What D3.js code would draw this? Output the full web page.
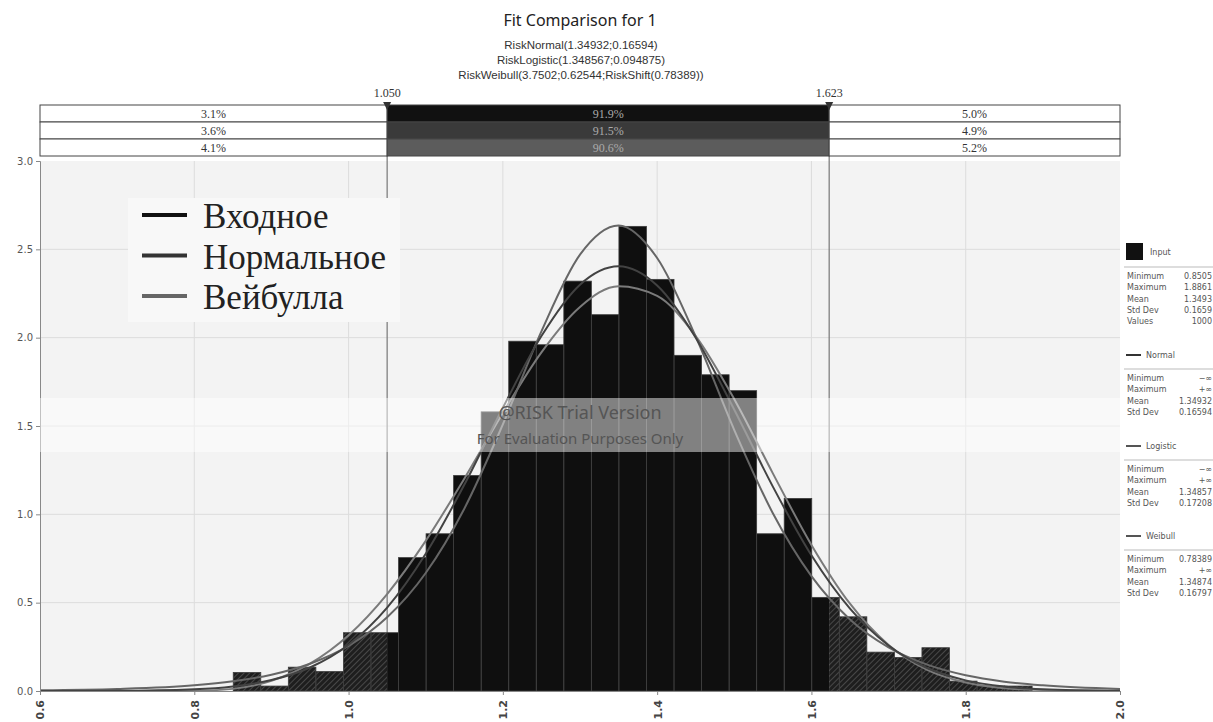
<!DOCTYPE html>
<html>
<head>
<meta charset="utf-8">
<script src="https://cdn.jsdelivr.net/npm/d3@7"></script>
<style>
  body { margin: 0; background: #fff; }
  svg { display: block; }
</style>
</head>
<body>
<svg id="chart"></svg>
<script>
// histogram of the input (density), 29 bins from min to max
const inputMin = 0.8505;
const inputMax = 1.8861;
const binHeights = [0.105, 0.028, 0.135, 0.11, 0.33, 0.33, 0.755, 0.89, 1.22, 1.58,
  1.98, 1.96, 2.32, 2.13, 2.63, 2.33, 1.90, 1.79, 1.70, 0.89,
  1.09, 0.53, 0.42, 0.22, 0.19, 0.245, 0.056, 0.028, 0.028];

// fitted curves
const curveX = [0.6, 0.7, 0.8, 0.85, 0.9, 0.95, 1.0, 1.05, 1.1, 1.15, 1.2, 1.25, 1.3, 1.35,
  1.4, 1.45, 1.5, 1.55, 1.6, 1.65, 1.7, 1.75, 1.8, 1.85, 1.9, 2.0];
const normalY = [0.0001, 0.001, 0.010, 0.026, 0.062, 0.133, 0.262, 0.472, 0.777, 1.167, 1.603, 2.009, 2.300, 2.404,
  2.295, 2.000, 1.592, 1.157, 0.768, 0.466, 0.258, 0.130, 0.060, 0.025, 0.010, 0.001];
const logisticY = [0.004, 0.011, 0.032, 0.055, 0.092, 0.154, 0.255, 0.417, 0.668, 1.032, 1.509, 2.036, 2.470, 2.635,
  2.451, 2.006, 1.477, 1.006, 0.650, 0.405, 0.247, 0.149, 0.089, 0.053, 0.032, 0.011];
const weibullY = [0, 0, 0.0003, 0.012, 0.058, 0.155, 0.316, 0.549, 0.850, 1.202, 1.574, 1.917, 2.174, 2.291,
  2.236, 2.009, 1.652, 1.232, 0.827, 0.494, 0.261, 0.120, 0.048, 0.016, 0.005, 0.0002];

// delimiters and percentages in the top bar
const delimiters = [1.050, 1.623];
const delimiterLabels = ["1.050", "1.623"];
const pctRows = [
  ["3.1%", "91.9%", "5.0%"],
  ["3.6%", "91.5%", "4.9%"],
  ["4.1%", "90.6%", "5.2%"]
];

const xTicks = [0.6, 0.8, 1.0, 1.2, 1.4, 1.6, 1.8, 2.0];
const yTicks = [0, 0.5, 1.0, 1.5, 2.0, 2.5, 3.0];

const legendLabels = ["Входное", "Нормальное", "Вейбулла"];

const titleText = "Fit Comparison for 1";
const subtitleLines = [
  "RiskNormal(1.34932;0.16594)",
  "RiskLogistic(1.348567;0.094875)",
  "RiskWeibull(3.7502;0.62544;RiskShift(0.78389))"
];

// side panel
const panelGroups = [
  { name: "Input", rows: [["Minimum", "0.8505"], ["Maximum", "1.8861"], ["Mean", "1.3493"], ["Std Dev", "0.1659"], ["Values", "1000"]] },
  { name: "Normal", rows: [["Minimum", "−∞"], ["Maximum", "+∞"], ["Mean", "1.34932"], ["Std Dev", "0.16594"]] },
  { name: "Logistic", rows: [["Minimum", "−∞"], ["Maximum", "+∞"], ["Mean", "1.34857"], ["Std Dev", "0.17208"]] },
  { name: "Weibull", rows: [["Minimum", "0.78389"], ["Maximum", "+∞"], ["Mean", "1.34874"], ["Std Dev", "0.16797"]] }
];

const W = 1213, H = 722;
const plotL = 40, plotR = 1120, plotT = 161, plotB = 691;

const svg = d3.select("#chart").attr("width", W).attr("height", H);

const x = d3.scaleLinear().domain([0.6, 2.0]).range([plotL, plotR]);
const y = d3.scaleLinear().domain([0, 3]).range([plotB, plotT]);

// hatch pattern for tails
const defs = svg.append("defs");
const pat = defs.append("pattern")
  .attr("id", "hatch")
  .attr("patternUnits", "userSpaceOnUse")
  .attr("width", 4).attr("height", 4)
  .attr("patternTransform", "rotate(45)");
pat.append("rect").attr("width", 4).attr("height", 4).attr("fill", "#1e1e1e");
pat.append("line").attr("x1", 0).attr("y1", 0).attr("x2", 0).attr("y2", 4)
  .attr("stroke", "#5a5a5a").attr("stroke-width", 1.4);

// plot background
svg.append("rect")
  .attr("x", plotL).attr("y", plotT)
  .attr("width", plotR - plotL).attr("height", plotB - plotT)
  .attr("fill", "#f3f3f3");

// grid
svg.append("g").selectAll("line")
  .data(xTicks.slice(1, -1))
  .join("line")
  .attr("x1", d => x(d)).attr("x2", d => x(d))
  .attr("y1", plotT).attr("y2", plotB)
  .attr("stroke", "#dcdcdc").attr("stroke-width", 1);
svg.append("g").selectAll("line")
  .data(yTicks.slice(1, -1))
  .join("line")
  .attr("x1", plotL).attr("x2", plotR)
  .attr("y1", d => y(d)).attr("y2", d => y(d))
  .attr("stroke", "#dcdcdc").attr("stroke-width", 1);

// delimiter lines
svg.append("g").selectAll("line")
  .data(delimiters)
  .join("line")
  .attr("x1", d => x(d)).attr("x2", d => x(d))
  .attr("y1", 105).attr("y2", plotB)
  .attr("stroke", "#777").attr("stroke-width", 1.2);

// bars, split into solid middle and hatched tails
const binW = (inputMax - inputMin) / binHeights.length;
const bins = binHeights.map((h, i) => ({ x0: inputMin + i * binW, x1: inputMin + (i + 1) * binW, h: h }));
const segments = [];
bins.forEach(b => {
  const cuts = [b.x0, ...delimiters.filter(d => d > b.x0 && d < b.x1), b.x1];
  for (let k = 0; k < cuts.length - 1; k++) {
    const mid = (cuts[k] + cuts[k + 1]) / 2;
    const inside = mid >= delimiters[0] && mid <= delimiters[1];
    segments.push({ a: cuts[k], b: cuts[k + 1], h: b.h, inside: inside });
  }
});

svg.append("g").selectAll("rect")
  .data(segments)
  .join("rect")
  .attr("x", d => x(d.a))
  .attr("width", d => x(d.b) - x(d.a))
  .attr("y", d => y(d.h))
  .attr("height", d => y(0) - y(d.h))
  .attr("fill", d => d.inside ? "#0f0f0f" : "url(#hatch)");

svg.append("g").selectAll("rect")
  .data(bins)
  .join("rect")
  .attr("x", d => x(d.x0))
  .attr("width", d => x(d.x1) - x(d.x0))
  .attr("y", d => y(d.h))
  .attr("height", d => y(0) - y(d.h))
  .attr("fill", "none")
  .attr("stroke", "#3c3c3c")
  .attr("stroke-width", 0.8);

// fitted curves
const line = d3.line()
  .x(d => x(d[0]))
  .y(d => y(d[1]))
  .curve(d3.curveMonotoneX);

const curves = [
  { ys: weibullY, color: "#7a7a7a" },
  { ys: logisticY, color: "#666" },
  { ys: normalY, color: "#424242" }
];
svg.append("g").selectAll("path")
  .data(curves)
  .join("path")
  .attr("d", c => line(curveX.map((v, i) => [v, c.ys[i]])))
  .attr("fill", "none")
  .attr("stroke", c => c.color)
  .attr("stroke-width", 2);

// axes
const yAxis = svg.append("g")
  .attr("transform", `translate(${plotL},0)`)
  .call(d3.axisLeft(y).tickValues(yTicks).tickFormat(d3.format(".1f")).tickSize(4));
yAxis.select(".domain").attr("stroke", "#888");
yAxis.selectAll(".tick line").attr("stroke", "#888");
yAxis.selectAll("text")
  .attr("font-family", "DejaVu Sans, sans-serif")
  .attr("font-size", 10)
  .attr("fill", "#555");

const xAxis = svg.append("g")
  .attr("transform", `translate(0,${plotB})`)
  .call(d3.axisBottom(x).tickValues(xTicks).tickFormat(d3.format(".1f")).tickSize(4));
xAxis.select(".domain").attr("stroke", "#888");
xAxis.selectAll(".tick line").attr("stroke", "#888");
xAxis.selectAll("text")
  .attr("font-family", "DejaVu Sans, sans-serif")
  .attr("font-size", 11)
  .attr("font-weight", "bold")
  .attr("fill", "#444")
  .attr("transform", "rotate(-90)")
  .attr("text-anchor", "end")
  .attr("x", -9)
  .attr("y", 0)
  .attr("dy", "0.35em");

// legend
svg.append("rect")
  .attr("x", 128).attr("y", 198)
  .attr("width", 272).attr("height", 124)
  .attr("fill", "#f8f8f8");
const legendColors = ["#111", "#333", "#666"];
const legend = svg.append("g").selectAll("g")
  .data(legendLabels)
  .join("g")
  .attr("transform", (d, i) => `translate(0,${215 + i * 40.5})`);
legend.append("line")
  .attr("x1", 142).attr("x2", 187)
  .attr("stroke", (d, i) => legendColors[i])
  .attr("stroke-width", 4);
legend.append("text")
  .attr("x", 203).attr("y", 13)
  .attr("font-family", "Liberation Serif, Times New Roman, serif")
  .attr("font-size", 35)
  .attr("fill", "#222")
  .text(d => d);

// watermark band
svg.append("rect")
  .attr("x", plotL).attr("y", 398)
  .attr("width", plotR - plotL).attr("height", 54)
  .attr("fill", "#fff").attr("opacity", 0.48);
svg.append("text")
  .attr("x", 580).attr("y", 419)
  .attr("text-anchor", "middle")
  .attr("font-family", "Noto Sans, sans-serif")
  .attr("font-size", 18)
  .attr("fill", "#555")
  .text("@RISK Trial Version");
svg.append("text")
  .attr("x", 580).attr("y", 444)
  .attr("text-anchor", "middle")
  .attr("font-family", "Noto Sans, sans-serif")
  .attr("font-size", 15)
  .attr("fill", "#555")
  .text("For Evaluation Purposes Only");

// top percentage bar
const rowH = 17, barTop = 105;
const xs = [plotL, x(delimiters[0]), x(delimiters[1]), plotR];
const midFills = ["#111", "#3a3a3a", "#5c5c5c"];
pctRows.forEach((row, r) => {
  row.forEach((t, c) => {
    svg.append("rect")
      .attr("x", xs[c]).attr("y", barTop + r * rowH)
      .attr("width", xs[c + 1] - xs[c]).attr("height", rowH)
      .attr("fill", c === 1 ? midFills[r] : "#fff")
      .attr("stroke", "#444").attr("stroke-width", 1);
    svg.append("text")
      .attr("x", (xs[c] + xs[c + 1]) / 2)
      .attr("y", barTop + r * rowH + 12.5)
      .attr("text-anchor", "middle")
      .attr("font-family", "Liberation Serif, serif")
      .attr("font-size", 12)
      .attr("fill", c === 1 ? "#aaa" : "#333")
      .text(t);
  });
});

// delimiter markers
svg.append("g").selectAll("path")
  .data(delimiters)
  .join("path")
  .attr("d", d => `M${x(d) - 4},${barTop - 3}L${x(d) + 4},${barTop - 3}L${x(d)},${barTop + 5}Z`)
  .attr("fill", "#333");
svg.append("g").selectAll("text")
  .data(delimiters)
  .join("text")
  .attr("x", d => x(d))
  .attr("y", 97)
  .attr("text-anchor", "middle")
  .attr("font-family", "Liberation Serif, serif")
  .attr("font-size", 12)
  .attr("fill", "#333")
  .text((d, i) => delimiterLabels[i]);

// title
svg.append("text")
  .attr("x", 580).attr("y", 26)
  .attr("text-anchor", "middle")
  .attr("font-family", "Noto Sans, sans-serif")
  .attr("font-size", 16)
  .attr("fill", "#222")
  .text(titleText);
svg.append("g").selectAll("text")
  .data(subtitleLines)
  .join("text")
  .attr("x", 581)
  .attr("y", (d, i) => 49 + i * 15)
  .attr("text-anchor", "middle")
  .attr("font-family", "Liberation Sans, sans-serif")
  .attr("font-size", 11.5)
  .attr("fill", "#333")
  .text(d => d);

// side panel
const panelTops = [243, 345, 436, 526];
const headerLine = ["#111", "#333", "#555", "#555"];
panelGroups.forEach((g, gi) => {
  const t = panelTops[gi];
  const pg = svg.append("g");
  if (gi === 0) {
    pg.append("rect").attr("x", 1126).attr("y", t).attr("width", 17).attr("height", 17).attr("fill", "#111");
    pg.append("text").attr("x", 1150).attr("y", t + 12).text(g.name);
  } else {
    pg.append("line").attr("x1", 1126).attr("x2", 1141).attr("y1", t + 10).attr("y2", t + 10)
      .attr("stroke", headerLine[gi]).attr("stroke-width", 2);
    pg.append("text").attr("x", 1146).attr("y", t + 13).text(g.name);
  }
  const sepY = t + 24;
  pg.append("line").attr("x1", 1124).attr("x2", W).attr("y1", sepY).attr("y2", sepY)
    .attr("stroke", "#bbb").attr("stroke-width", 1);
  g.rows.forEach((r, ri) => {
    pg.append("text").attr("x", 1127).attr("y", sepY + 12 + ri * 11.3).text(r[0]);
    pg.append("text").attr("x", 1212).attr("y", sepY + 12 + ri * 11.3)
      .attr("text-anchor", "end").text(r[1]);
  });
  pg.selectAll("text")
    .attr("font-family", "DejaVu Sans, sans-serif")
    .attr("font-size", 8)
    .attr("fill", "#555");
});
</script>
</body>
</html>
